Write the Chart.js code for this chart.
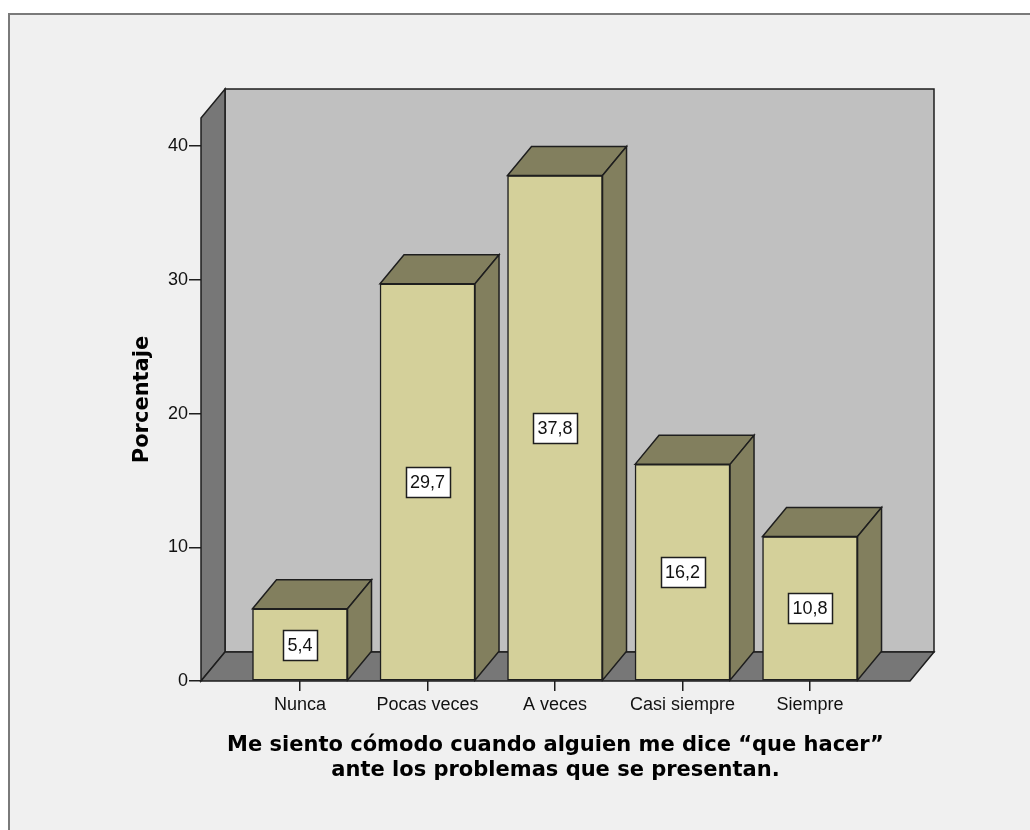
<!DOCTYPE html>
<html><head><meta charset="utf-8">
<script src="https://cdn.jsdelivr.net/npm/chart.js@4/dist/chart.umd.min.js"></script>
<style>html,body{margin:0;padding:0;background:#fff;} canvas{display:block;}</style>
</head><body>
<canvas id="c" width="1030" height="830"></canvas>
<script>
const categories = ['Nunca', 'Pocas veces', 'A veces', 'Casi siempre', 'Siempre'];
const percentages = [5.4, 29.7, 37.8, 16.2, 10.8];
const yTickValues = [0, 10, 20, 30, 40];
const yTitle = 'Porcentaje';
const xTitle = ['Me siento cómodo cuando alguien me dice “que hacer”', 'ante los problemas que se presentan.'];

const DX = 24, DY = -29;
const COLORS = {bg:'#f0f0f0', frame:'#7a7a7a', wall:'#c0c0c0', side:'#777777', front:'#d4d09a', shade:'#827f5e', line:'#1e1e1e'};
const TICK_FONT = {family:'"Liberation Sans", Arial, sans-serif', size:18};
const TITLE_FONT = {family:'"DejaVu Sans", Verdana, sans-serif', size:21, weight:'bold', lineHeight:1.2};

function poly(ctx, pts, fill) {
  ctx.beginPath();
  pts.forEach((p, i) => i ? ctx.lineTo(p[0], p[1]) : ctx.moveTo(p[0], p[1]));
  ctx.closePath();
  ctx.fillStyle = fill; ctx.fill(); ctx.stroke();
}

const scenePlugin = {
  id: 'scene',
  beforeDraw(chart) {
    const ctx = chart.ctx;
    ctx.save();
    ctx.fillStyle = '#fff'; ctx.fillRect(0, 0, chart.width, chart.height);
    ctx.fillStyle = COLORS.bg; ctx.fillRect(9, 14, chart.width, chart.height);
    ctx.strokeStyle = COLORS.frame; ctx.lineWidth = 2;
    ctx.beginPath(); ctx.moveTo(9, chart.height + 5); ctx.lineTo(9, 14); ctx.lineTo(chart.width + 5, 14); ctx.stroke();
    ctx.restore();
  },
  beforeDatasetsDraw(chart) {
    const {ctx, chartArea: {left, right, top, bottom}} = chart;
    ctx.save();
    ctx.lineWidth = 1.5; ctx.strokeStyle = COLORS.line; ctx.lineJoin = 'miter';
    ctx.fillStyle = COLORS.wall;
    ctx.beginPath(); ctx.rect(left + DX, top + DY, right - left, bottom - top); ctx.fill(); ctx.stroke();
    poly(ctx, [[left, top], [left + DX, top + DY], [left + DX, bottom + DY], [left, bottom]], COLORS.side);
    poly(ctx, [[left, bottom], [left + DX, bottom + DY], [right + DX, bottom + DY], [right, bottom]], COLORS.side);
    ctx.restore();
  },
  afterDatasetsDraw(chart) {
    const ctx = chart.ctx;
    const meta = chart.getDatasetMeta(0);
    ctx.save();
    ctx.lineWidth = 1.5; ctx.strokeStyle = COLORS.line;
    meta.data.forEach((bar) => {
      const {x, y, base, width} = bar.getProps(['x', 'y', 'base', 'width'], true);
      const x0 = x - width / 2, x1 = x + width / 2;
      poly(ctx, [[x0, y], [x0 + DX, y + DY], [x1 + DX, y + DY], [x1, y]], COLORS.shade);
      poly(ctx, [[x1, y], [x1 + DX, y + DY], [x1 + DX, base + DY], [x1, base]], COLORS.shade);
    });
    ctx.font = '18px "Liberation Sans", Arial, sans-serif';
    ctx.textAlign = 'center'; ctx.textBaseline = 'middle';
    meta.data.forEach((bar, i) => {
      const {x, y, base} = bar.getProps(['x', 'y', 'base'], true);
      const txt = percentages[i].toFixed(1).replace('.', ',');
      const w = Math.round(ctx.measureText(txt).width + 9), h = 30;
      const cy = Math.round((y + base) / 2);
      const bx = Math.round(x - w / 2), by = Math.round(cy - h / 2);
      ctx.fillStyle = '#fff';
      ctx.fillRect(bx, by, w, h);
      ctx.lineWidth = 1.5; ctx.strokeStyle = COLORS.line;
      ctx.strokeRect(bx + 0.5, by + 0.5, w, h);
      ctx.fillStyle = '#111';
      ctx.fillText(txt, x, cy + 1);
    });
    ctx.restore();
  }
};

new Chart(document.getElementById('c'), {
  type: 'bar',
  data: {
    datasets: [{
      data: percentages.map((v, i) => ({x: i, y: v})),
      backgroundColor: COLORS.front,
      borderColor: COLORS.line,
      borderWidth: 1.5,
      borderSkipped: false,
      barThickness: 95
    }]
  },
  options: {
    responsive: false,
    animation: false,
    devicePixelRatio: 1,
    layout: {padding: {left: 0, top: 118, right: 120, bottom: 0}},
    plugins: {legend: {display: false}, tooltip: {enabled: false}},
    scales: {
      x: {
        type: 'linear',
        offset: false,
        min: -0.7765,
        max: 4.784,
        afterFit: s => { s.height = 149; },
        ticks: {
          stepSize: 1, includeBounds: false, autoSkip: false, maxRotation: 0, minRotation: 0,
          padding: 3, font: TICK_FONT, color: '#111',
          callback: v => (Number.isInteger(v) && categories[v] !== undefined) ? categories[v] : ''
        },
        grid: {display: true, offset: false, drawOnChartArea: false, drawTicks: true, tickLength: 10, color: COLORS.line, lineWidth: 1.5},
        border: {display: false},
        title: {display: true, text: xTitle, font: TITLE_FONT, color: '#000', padding: {top: 0, bottom: 47}}
      },
      y: {
        min: 0,
        max: 42.1,
        afterFit: s => { s.width = 201; },
        afterBuildTicks: s => { s.ticks = yTickValues.map(v => ({value: v})); },
        ticks: {stepSize: 10, includeBounds: false, padding: 1, font: TICK_FONT, color: '#111'},
        grid: {display: true, drawOnChartArea: false, drawTicks: true, tickLength: 12, color: COLORS.line, lineWidth: 1.5},
        border: {display: false},
        title: {display: true, text: yTitle, font: TITLE_FONT, color: '#000', padding: {top: 130, bottom: 0}}
      }
    }
  },
  plugins: [scenePlugin]
});
</script>
</body></html>
